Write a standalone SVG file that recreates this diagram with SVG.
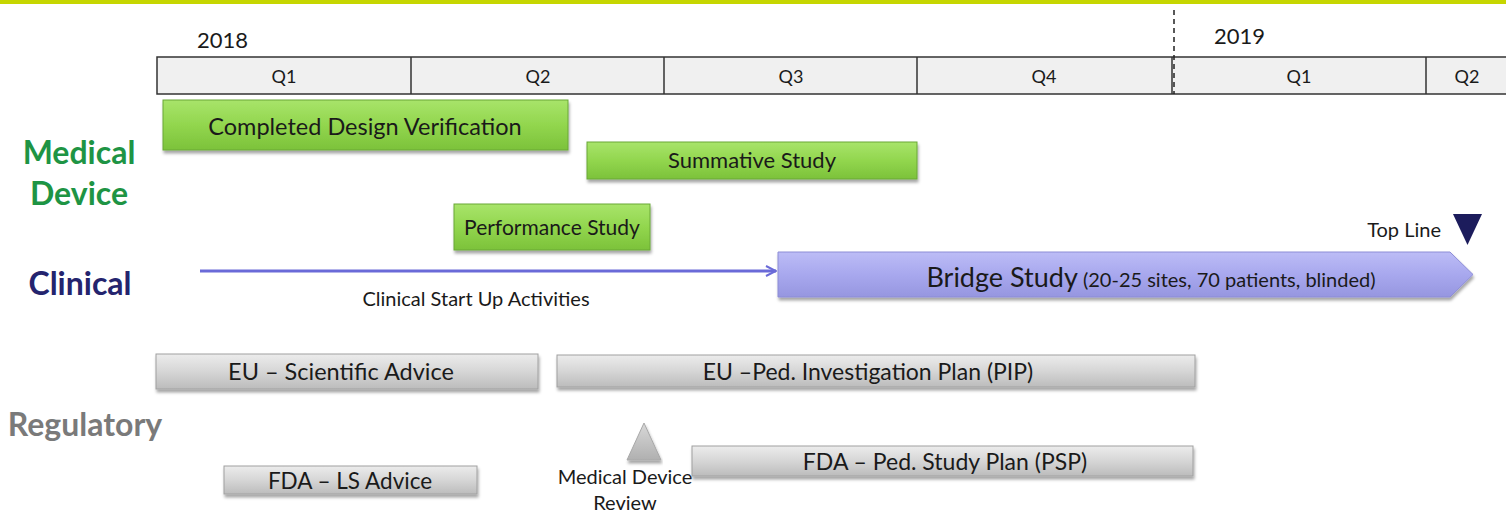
<svg xmlns="http://www.w3.org/2000/svg" width="1506" height="513" viewBox="0 0 1506 513">
<defs>
<linearGradient id="gGreen" x1="0" y1="0" x2="0" y2="1">
<stop offset="0" stop-color="#a8e46a"/><stop offset="0.5" stop-color="#92d64e"/><stop offset="1" stop-color="#7cc23a"/>
</linearGradient>
<linearGradient id="gGray" x1="0" y1="0" x2="0" y2="1">
<stop offset="0" stop-color="#ececec"/><stop offset="0.5" stop-color="#d6d6d6"/><stop offset="1" stop-color="#bcbcbc"/>
</linearGradient>
<linearGradient id="gPurple" x1="0" y1="0" x2="0" y2="1">
<stop offset="0" stop-color="#bcbcf6"/><stop offset="0.5" stop-color="#a8a8ee"/><stop offset="1" stop-color="#9696e0"/>
</linearGradient>
<linearGradient id="gTri" x1="0" y1="0" x2="0" y2="1">
<stop offset="0" stop-color="#d8d8d8"/><stop offset="1" stop-color="#b0b0b0"/>
</linearGradient>
<filter id="sh" x="-5%" y="-20%" width="110%" height="150%">
<feDropShadow dx="1" dy="3" stdDeviation="1.5" flood-color="#000" flood-opacity="0.35"/>
</filter>
<marker id="arr" viewBox="0 0 12 12" refX="11" refY="6" markerWidth="12" markerHeight="12" markerUnits="userSpaceOnUse" orient="auto">
<path d="M1,1 L11,6 L1,11" fill="none" stroke="#6a6ad8" stroke-width="2"/>
</marker>
</defs>
<style>
.t{font-family:Lato,"Open Sans","Liberation Sans",sans-serif;fill:#1a1a1a}
.green{fill:url(#gGreen);stroke:#6aa836;stroke-width:1;filter:url(#sh)}
.gray{fill:url(#gGray);stroke:#a0a0a0;stroke-width:1;filter:url(#sh)}
.q{fill:#f0f0f0;stroke:#333;stroke-width:1.5}
.lbl{font-family:Lato,"Open Sans","Liberation Sans",sans-serif;font-weight:bold;font-size:32px}
</style>
<rect x="0" y="0" width="1506" height="513" fill="#fff"/>
<rect x="0" y="0" width="1506" height="4" fill="#c6d600"/>

<g id="timeline">
<text class="t" x="197" y="48" font-size="22">2018</text>
<text class="t" x="1214" y="44" font-size="22">2019</text>
<rect class="q" x="157" y="57" width="1355" height="37"/>
<line x1="411" y1="57" x2="411" y2="94" stroke="#333" stroke-width="1.5"/>
<line x1="664" y1="57" x2="664" y2="94" stroke="#333" stroke-width="1.5"/>
<line x1="917" y1="57" x2="917" y2="94" stroke="#333" stroke-width="1.5"/>
<line x1="1172" y1="57" x2="1172" y2="94" stroke="#333" stroke-width="1.5"/>
<line x1="1426" y1="57" x2="1426" y2="94" stroke="#333" stroke-width="1.5"/>
<line x1="1174" y1="10" x2="1174" y2="94" stroke="#222" stroke-width="1.5" stroke-dasharray="5,4"/>
<text class="t" x="284" y="83" font-size="18" text-anchor="middle">Q1</text>
<text class="t" x="538" y="83" font-size="18" text-anchor="middle">Q2</text>
<text class="t" x="791" y="83" font-size="18" text-anchor="middle">Q3</text>
<text class="t" x="1044" y="83" font-size="18" text-anchor="middle">Q4</text>
<text class="t" x="1299" y="83" font-size="18" text-anchor="middle">Q1</text>
<text class="t" x="1467" y="83" font-size="18" text-anchor="middle">Q2</text>
</g>

<g id="row-labels">
<text class="lbl" x="79" y="164" text-anchor="middle" fill="#1e9444">Medical</text>
<text class="lbl" x="79" y="205" text-anchor="middle" fill="#1e9444">Device</text>
<text class="lbl" x="80" y="295" text-anchor="middle" fill="#24246e">Clinical</text>
<text class="lbl" x="85" y="436" text-anchor="middle" fill="#7a7a7a">Regulatory</text>
</g>

<g id="completed-design-verification">
<rect class="green" x="163" y="100" width="405" height="50"/>
<text class="t" x="365" y="135" font-size="23.5" text-anchor="middle">Completed Design Verification</text>
</g>
<g id="summative-study">
<rect class="green" x="587" y="142" width="330" height="37"/>
<text class="t" x="752" y="168" font-size="22" text-anchor="middle">Summative Study</text>
</g>
<g id="performance-study">
<rect class="green" x="454" y="204" width="196" height="46"/>
<text class="t" x="552" y="235" font-size="21" text-anchor="middle">Performance Study</text>
</g>

<g id="connectors">
<line x1="200" y1="271" x2="776" y2="271" stroke="#6a6ad8" stroke-width="3" marker-end="url(#arr)"/>
</g>
<text class="t" x="476" y="306" font-size="20" text-anchor="middle">Clinical Start Up Activities</text>

<g id="bridge-study">
<path d="M778,252 H1450 L1473,274.5 L1450,297 H778 Z" fill="url(#gPurple)" stroke="#8c8cd6" stroke-width="1" filter="url(#sh)"/>
<text class="t" x="1151" y="287" text-anchor="middle"><tspan font-size="27">Bridge Study</tspan><tspan font-size="20"> (20-25 sites, 70 patients, blinded)</tspan></text>
</g>

<g id="top-line">
<text class="t" x="1441" y="237" font-size="20" text-anchor="end">Top Line</text>
<path d="M1453,214 L1482,214 L1467.5,245 Z" fill="#1c1c5c"/>
</g>

<g id="eu-scientific-advice">
<rect class="gray" x="156" y="354" width="382" height="35"/>
<text class="t" x="341" y="380" font-size="23.5" text-anchor="middle">EU – Scientific Advice</text>
</g>
<g id="eu-pip">
<rect class="gray" x="557" y="355" width="638" height="32"/>
<text class="t" x="868" y="380" font-size="23" text-anchor="middle">EU –Ped. Investigation Plan (PIP)</text>
</g>
<g id="fda-ls-advice">
<rect class="gray" x="224" y="466" width="253" height="28"/>
<text class="t" x="350" y="489" font-size="22.5" text-anchor="middle">FDA – LS Advice</text>
</g>
<g id="fda-psp">
<rect class="gray" x="692" y="446" width="501" height="30"/>
<text class="t" x="945" y="470" font-size="23" text-anchor="middle">FDA – Ped. Study Plan (PSP)</text>
</g>

<g id="medical-device-review">
<path d="M644,423 L661,460 L627,460 Z" fill="url(#gTri)" stroke="#a8a8a8" stroke-width="1" filter="url(#sh)"/>
<text class="t" x="625" y="484" font-size="20" text-anchor="middle">Medical Device</text>
<text class="t" x="625" y="510" font-size="20" text-anchor="middle">Review</text>
</g>
</svg>
